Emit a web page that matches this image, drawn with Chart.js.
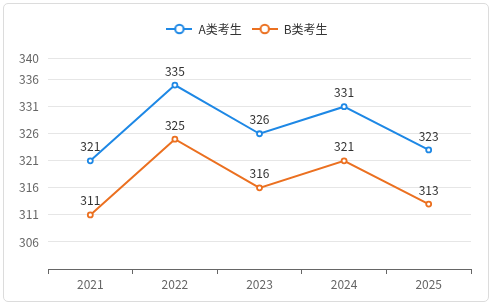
<!DOCTYPE html>
<html>
<head>
<meta charset="utf-8">
<script src="https://cdn.jsdelivr.net/npm/chart.js@4/dist/chart.umd.min.js"></script>
<style>
  html, body { margin: 0; padding: 0; background: #fff; }
  #card { position: absolute; left: 3px; top: 3px; width: 486px; height: 299px; border: 1px solid #dcdcdc; border-radius: 5px; box-sizing: border-box; }
  #wrap { position: absolute; left: 0; top: 0; width: 494px; height: 307px; }
</style>
</head>
<body>
<div id="card"></div>
<div id="wrap"><canvas id="c" width="494" height="307"></canvas></div>
<script>
const categories = ['2021', '2022', '2023', '2024', '2025'];
const seriesA = [321, 335, 326, 331, 323];
const seriesB = [311, 325, 316, 321, 313];
const seriesNames = ['A类考生', 'B类考生'];
const yTicks = [306, 311, 316, 321, 326, 331, 336, 340];
const colors = ['#1e88e5', '#eb7020'];
const FONT = '"Microsoft YaHei", "Noto Sans CJK SC", sans-serif';

function legendIcon(color) {
  const cv = document.createElement('canvas');
  cv.width = 26; cv.height = 12;
  const g = cv.getContext('2d');
  g.strokeStyle = color; g.lineWidth = 2;
  g.beginPath(); g.moveTo(0, 6); g.lineTo(26, 6); g.stroke();
  g.beginPath(); g.arc(13, 6, 4.2, 0, Math.PI * 2);
  g.fillStyle = '#fff'; g.fill(); g.stroke();
  return cv;
}
const icons = colors.map(legendIcon);

const legendSpacer = {
  id: 'legendSpacer',
  beforeInit(chart) {
    const orig = chart.legend.fit;
    chart.legend.fit = function () { orig.call(this); this.height += 13; };
  }
};

const valueLabels = {
  id: 'valueLabels',
  afterDatasetsDraw(chart) {
    const ctx = chart.ctx;
    ctx.save();
    ctx.font = '12px ' + FONT;
    ctx.fillStyle = '#333';
    ctx.textAlign = 'center';
    ctx.textBaseline = 'middle';
    chart.data.datasets.forEach((ds, i) => {
      chart.getDatasetMeta(i).data.forEach((pt, j) => {
        ctx.fillText(String(ds.data[j]), pt.x, pt.y - 14);
      });
    });
    ctx.restore();
  }
};

new Chart(document.getElementById('c'), {
  type: 'line',
  data: {
    labels: categories,
    datasets: [
      { label: seriesNames[0], data: seriesA, borderColor: colors[0], backgroundColor: '#fff',
        borderWidth: 2, pointRadius: 2.5, pointBorderWidth: 1.8, pointBackgroundColor: '#fff', pointBorderColor: colors[0], tension: 0 },
      { label: seriesNames[1], data: seriesB, borderColor: colors[1], backgroundColor: '#fff',
        borderWidth: 2, pointRadius: 2.5, pointBorderWidth: 1.8, pointBackgroundColor: '#fff', pointBorderColor: colors[1], tension: 0 }
    ]
  },
  options: {
    responsive: false,
    animation: false,
    layout: { padding: { left: 0, right: 0, top: 13, bottom: 0 } },
    plugins: {
      tooltip: { enabled: false },
      legend: {
        position: 'top',
        labels: {
          usePointStyle: true,
          pointStyleWidth: 26,
          boxHeight: 12,
          padding: 10,
          color: '#333',
          font: { family: FONT, size: 12 },
          generateLabels(chart) {
            return chart.data.datasets.map((ds, i) => ({
              text: ds.label, pointStyle: icons[i], fillStyle: '#fff', strokeStyle: colors[i],
              lineWidth: 0, hidden: false, datasetIndex: i, fontColor: '#333'
            }));
          }
        }
      }
    },
    scales: {
      x: {
        offset: true,
        grid: { offset: true, drawOnChartArea: false, drawTicks: true, tickLength: 5, color: '#666' },
        border: { display: true, color: '#666', width: 1 },
        ticks: { color: '#666', padding: 3, font: { family: FONT, size: 12 } },
        afterFit(s) { s.height = 38; }
      },
      y: {
        min: 301, max: 340,
        afterBuildTicks(s) { s.ticks = yTicks.map(v => ({ value: v })); },
        grid: { color: '#e6e6e6', drawTicks: false },
        border: { display: false },
        ticks: { color: '#666', padding: 9, font: { family: FONT, size: 12 } },
        afterFit(s) { s.width = 48; }
      },
      yRight: {
        type: 'linear',
        position: 'right',
        grid: { display: false, drawTicks: false },
        border: { display: false },
        ticks: { display: false },
        afterFit(s) { s.width = 23; }
      }
    }
  },
  plugins: [legendSpacer, valueLabels]
});
</script>
</body>
</html>
